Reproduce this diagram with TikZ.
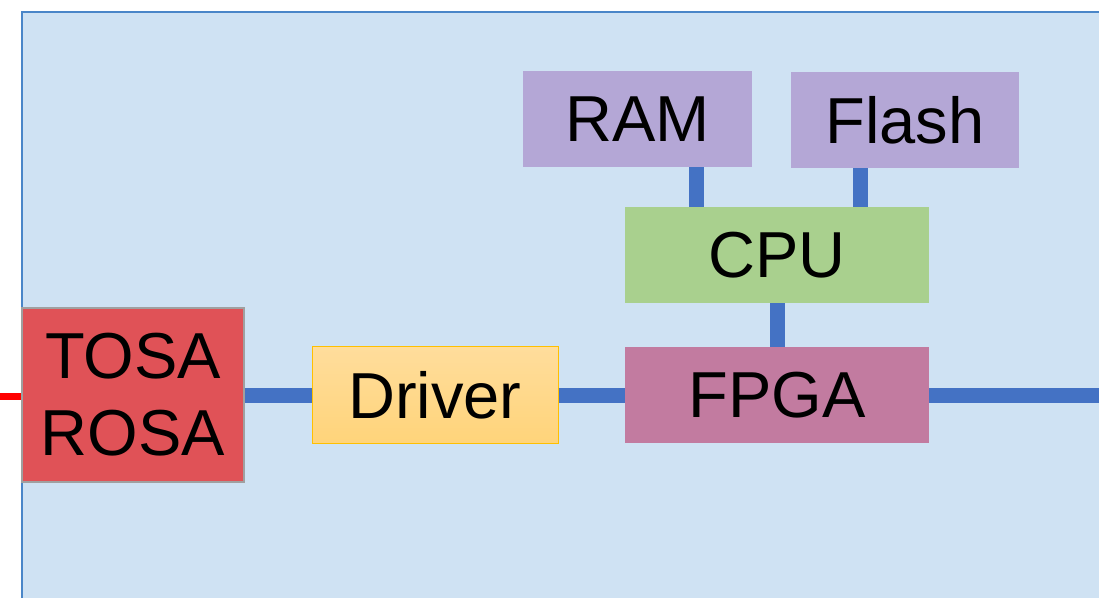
\documentclass[tikz,border=0pt]{standalone}
\usepackage{fontspec}
\setmainfont{Liberation Sans}
\begin{document}
\begin{tikzpicture}[x=1pt,y=-1pt,
  block/.style={rectangle, inner sep=0pt, font=\fontsize{65}{77}\selectfont, text=black, align=center},
  bus/.style={draw=busblue, line width=15pt},
  fiber/.style={draw=red, line width=7pt}]
\definecolor{panel}{HTML}{CFE2F3}
\definecolor{paneledge}{HTML}{4A86C8}
\definecolor{busblue}{HTML}{4472C4}
\definecolor{osa}{HTML}{E05257}
\definecolor{osaedge}{HTML}{A0A0A0}
\definecolor{drvtop}{HTML}{FFDD9C}
\definecolor{drvbot}{HTML}{FFD47A}
\definecolor{drvedge}{HTML}{FFC000}
\definecolor{fpga}{HTML}{C27BA0}
\definecolor{cpu}{HTML}{A9D08E}
\definecolor{mem}{HTML}{B4A7D6}

\useasboundingbox (0,0) rectangle (1099,597);
\clip (0,0) rectangle (1099,597);

% module housing
\draw[fill=panel, draw=paneledge, line width=2.8pt] (22,12) rectangle (1120,620);

% blocks
\node[block, fill=osa, draw=osaedge, line width=1.2pt, minimum width=222pt, minimum height=174pt] (osa) at (133,395) {TOSA\\ROSA};
\node[block, top color=drvtop, bottom color=drvbot, draw=drvedge, line width=1pt, minimum width=246pt, minimum height=97pt] (drv) at (435,395) {Driver};
\node[block, fill=fpga, minimum width=304pt, minimum height=96pt] (fpga) at (777,395) {FPGA};
\node[block, fill=cpu, minimum width=304pt, minimum height=96pt] (cpu) at (777,255) {CPU};
\node[block, fill=mem, minimum width=229pt, minimum height=96pt] (ram) at (637.5,119) {RAM};
\node[block, fill=mem, minimum width=228pt, minimum height=96pt] (flash) at (905,120) {Flash};

% free ends
\coordinate (fiberIn) at (0,396);
\coordinate (busOut) at (1099,395);

% connections
\draw[fiber] (fiberIn) -- (osa.west |- fiberIn);
\draw[bus] (osa.east) -- (drv.west);
\draw[bus] (drv.east) -- (fpga.west);
\draw[bus] (fpga.east) -- (busOut);
\draw[bus] (cpu.south) -- (fpga.north);
\draw[bus] ([xshift=58.5pt]ram.south) -- ([xshift=58.5pt]ram.south |- cpu.north);
\draw[bus] ([xshift=-45pt]flash.south) -- ([xshift=-45pt]flash.south |- cpu.north);
\end{tikzpicture}
\end{document}
